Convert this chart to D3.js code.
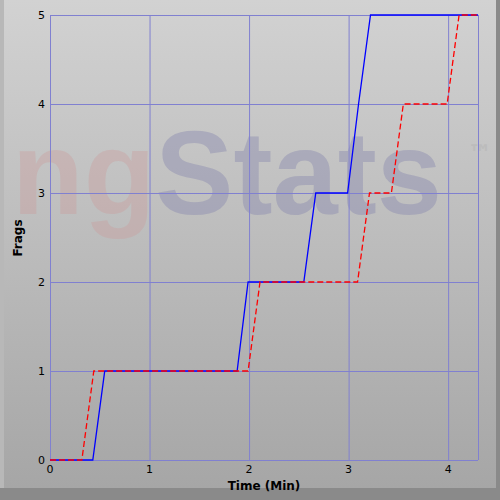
<!DOCTYPE html>
<html><head><meta charset="utf-8">
<script src="https://cdn.jsdelivr.net/npm/d3@7"></script>
<style>body{margin:0;background:#fff}</style>
</head><body>
<div id="chart"></div>
<script>
let w = 500, h = 500;
let xTicks = [0, 1, 2, 3, 4];
let yTicks = [0, 1, 2, 3, 4, 5];
// player 1 (blue solid)
let blueTime = [0, 0.43, 0.55, 1.88, 1.99, 2.55, 2.67, 2.99, 3.1, 3.22, 4.3];
let blueFrags = [0, 0, 1, 1, 2, 2, 3, 3, 4, 5, 5];
// player 2 (red dashed)
let redTime = [0, 0.32, 0.44, 1.99, 2.11, 3.09, 3.21, 3.43, 3.55, 3.99, 4.11, 4.3];
let redFrags = [0, 0, 1, 1, 2, 2, 3, 3, 4, 4, 5, 5];

let svg = d3.select("#chart").append("svg").attr("width", w).attr("height", h)
  .style("font-family", "DejaVu Sans, sans-serif");
let defs = svg.append("defs");
let g1 = defs.append("linearGradient").attr("id", "bg").attr("x1", 0).attr("y1", 0).attr("x2", 0).attr("y2", 1);
g1.append("stop").attr("offset", "0%").attr("stop-color", "#d2d2d2");
g1.append("stop").attr("offset", "100%").attr("stop-color", "#a6a6a6");

svg.append("rect").attr("width", w).attr("height", h).attr("fill", "#8a8a8a");
svg.append("rect").attr("x", 0).attr("y", 0).attr("width", 496).attr("height", 488).attr("fill", "url(#bg)");
svg.append("rect").attr("x", 0).attr("y", 0).attr("width", 4).attr("height", 488).attr("fill", "#b8b8b8");

// watermark
let wm = svg.append("text").attr("x", 12).attr("y", 214)
  .attr("textLength", 430).attr("lengthAdjust", "spacingAndGlyphs")
  .style("font-size", "118px").style("font-weight", "bold").style("font-family", "Liberation Sans, Arial, sans-serif");
wm.append("tspan").text("ng").attr("fill", "#cc9a9a").attr("opacity", 0.35);
wm.append("tspan").text("Stats").attr("fill", "#8c8cb0").attr("opacity", 0.45);
svg.append("text").attr("x", 468).attr("y", 162).text("™").attr("fill", "#bcbcbc")
  .style("font-size", "24px").style("font-weight", "bold");

let x = d3.scaleLinear().domain([0, 4.3]).range([50, 478]);
let y = d3.scaleLinear().domain([0, 5]).range([460, 15]);

let grid = svg.append("g").attr("stroke", "#8080d0").attr("stroke-width", 1);
grid.selectAll(".gx").data(xTicks.concat([4.3])).join("line")
  .attr("x1", d => x(d) + 0.5).attr("x2", d => x(d) + 0.5).attr("y1", y(5)).attr("y2", y(0));
grid.selectAll(".gy").data(yTicks).join("line")
  .attr("y1", d => y(d) + 0.5).attr("y2", d => y(d) + 0.5).attr("x1", x(0)).attr("x2", x(4.3));

svg.selectAll(".xt").data(xTicks).join("text").attr("x", d => x(d)).attr("y", 473)
  .attr("text-anchor", "middle").style("font-size", "11px").text(d => d);
svg.selectAll(".yt").data(yTicks).join("text").attr("x", 45).attr("y", d => y(d) + 4)
  .attr("text-anchor", "end").style("font-size", "11px").text(d => d);

svg.append("text").attr("x", 264).attr("y", 490).attr("text-anchor", "middle")
  .style("font-size", "12px").style("font-weight", "bold").text("Time (Min)");
svg.append("text").attr("transform", "translate(22,238) rotate(-90)").attr("text-anchor", "middle")
  .style("font-size", "12px").style("font-weight", "bold").text("Frags");

let line = d3.line().x(d => x(d[0])).y(d => y(d[1]));
svg.append("path").datum(d3.zip(blueTime, blueFrags)).attr("d", line)
  .attr("fill", "none").attr("stroke", "#0000ff").attr("stroke-width", 1.3);
svg.append("path").datum(d3.zip(redTime, redFrags)).attr("d", line)
  .attr("fill", "none").attr("stroke", "#ff0000").attr("stroke-width", 1.3).attr("stroke-dasharray", "6,3");
</script>
</body></html>
